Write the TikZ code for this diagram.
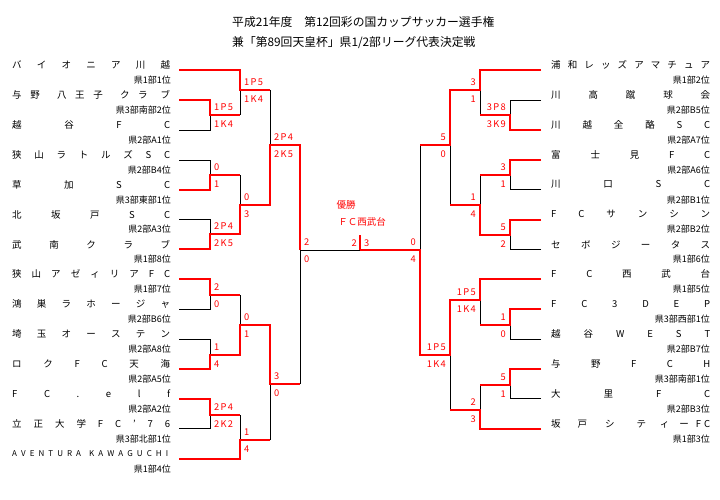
\documentclass[tikz,border=0pt]{standalone}
\usepackage{fontspec}
\setmainfont{Noto Sans CJK JP}
\newcommand\pkl[3]{#1\kern1.3pt #2\kern1.3pt #3}
\newcommand\wgap[1]{\hskip 0pt plus #1fil\relax}
\tikzset{
  nm/.style={inner sep=0pt, anchor=west, font=\fontsize{9.5}{11}\selectfont},
  subtl/.style={inner sep=0pt, anchor=east, font=\fontsize{9}{11}\selectfont},
  scl/.style={inner sep=0pt, text=red, font=\fontsize{9.3}{11}\selectfont},
  scL/.style={scl, anchor=west},
  scR/.style={scl, anchor=east},
  wline/.style={draw=red, line width=2pt, line join=miter},
  lline/.style={draw=black, line width=0.9pt},
  ttl/.style={inner sep=0pt, anchor=west, font=\fontsize{11.8}{13}\selectfont},
  champ/.style={inner sep=0pt, text=red, font=\fontsize{9.5}{11}\selectfont},
}
\begin{document}
\begin{tikzpicture}[x=1pt,y=-1pt]
\useasboundingbox (0,0) rectangle (720,500);
\fill[white] (0,0) rectangle (720,500);

% title
\node[ttl] (t1) at (232,22) {平成21年度　第12回彩の国カップサッカー選手権};
\node[ttl] (t2) at (232,43) {兼「第89回天皇杯」県1/2部リーグ代表決定戦};

% team line ends
\coordinate (l1) at (179,70);
\coordinate (l2) at (179,100);
\coordinate (l3) at (179,130);
\coordinate (l4) at (179,160);
\coordinate (l5) at (179,189.6);
\coordinate (l6) at (179,219.5);
\coordinate (l7) at (179,249.4);
\coordinate (l8) at (179,279.3);
\coordinate (l9) at (179,309.2);
\coordinate (l10) at (179,339.1);
\coordinate (l11) at (179,369);
\coordinate (l12) at (179,398.9);
\coordinate (l13) at (179,428.8);
\coordinate (l14) at (179,458.7);
\coordinate (r1) at (541,70);
\coordinate (r2) at (541,100);
\coordinate (r3) at (541,130);
\coordinate (r4) at (541,160);
\coordinate (r5) at (541,189.6);
\coordinate (r6) at (541,219.5);
\coordinate (r7) at (541,249.4);
\coordinate (r8) at (541,279.3);
\coordinate (r9) at (541,309.2);
\coordinate (r10) at (541,339.1);
\coordinate (r11) at (541,369);
\coordinate (r12) at (541,398.9);
\coordinate (r13) at (541,428.8);

% junctions left
\coordinate (jA) at (210,115);
\coordinate (jB) at (240,90);
\coordinate (jD) at (210,175);
\coordinate (jF) at (210,234);
\coordinate (jE) at (240,205);
\coordinate (jC) at (270,145);
\coordinate (jG) at (210,295);
\coordinate (jH) at (210,355);
\coordinate (jI) at (240,325);
\coordinate (jJ) at (210,415);
\coordinate (jK) at (240,440);
\coordinate (jL) at (270,384);
\coordinate (jS) at (300,250);
\coordinate (jF0) at (360,250);
\coordinate (tick) at (360,235);
% junctions right
\coordinate (kA) at (510,115);
\coordinate (kB) at (480,90);
\coordinate (kC) at (510,175);
\coordinate (kD) at (510,235);
\coordinate (kE) at (480,205);
\coordinate (kF) at (450,145);
\coordinate (kG) at (510,325);
\coordinate (kH) at (480,300);
\coordinate (kI) at (510,385);
\coordinate (kJ) at (480,410);
\coordinate (kK) at (450,355);
\coordinate (kS) at (420,250);

% losing lines (black)
\draw[lline] (l3) -| (jA);
\draw[lline] (jA -| jB) -- (jB);
\draw[lline] (jB -| jC) -- (jC);
\draw[lline] (l4) -| (jD);
\draw[lline] (jD -| jE) -- (jE);
\draw[lline] (l6) -| (jF);
\draw[lline] (jS) -- (jF0);
\draw[lline] (jG -| jI) -- (jI);
\draw[lline] (l9) -| (jG);
\draw[lline] (l10) -| (jH);
\draw[lline] (jL -| jS) -- (jS);
\draw[lline] (jJ -| jK) -- (jK);
\draw[lline] (l13) -| (jJ);
\draw[lline] (jK -| jL) -- (jL);
\draw[lline] (r2) -| (kA);
\draw[lline] (kA -| kB) -- (kB);
\draw[lline] (kF -| kS) -- (kS);
\draw[lline] (kC -| kE) -- (kE);
\draw[lline] (r5) -| (kC);
\draw[lline] (kE -| kF) -- (kF);
\draw[lline] (r7) -| (kD);
\draw[lline] (kG -| kH) -- (kH);
\draw[lline] (r10) -| (kG);
\draw[lline] (kI -| kJ) -- (kJ);
\draw[lline] (r12) -| (kI);
\draw[lline] (kJ -| kK) -- (kK);

% winning lines (red)
\draw[wline] (l1) -| (jB) -- (jB -| jC);
\draw[wline] (l2) -| (jA) -- (jA -| jB);
\draw[wline] (l5) -| (jD) -- (jD -| jE);
\draw[wline] (l7) -| (jF) -- (jF -| jE) -- (jE) -- (jE -| jC) -- (jC) -- (jC -| jS) -- (jS);
\draw[wline] (l8) -| (jG) -- (jG -| jI);
\draw[wline] (l11) -| (jH) -- (jH -| jI) -- (jI) -- (jI -| jL) -- (jL) -- (jL -| jS);
\draw[wline] (l12) -| (jJ) -- (jJ -| jK);
\draw[wline] (l14) -| (jK) -- (jK -| jL);
\draw[wline] (r1) -| (kB) -- (kB -| kF) -- (kF) -- (kF -| kS);
\draw[wline] (r3) -| (kA) -- (kA -| kB);
\draw[wline] (r4) -| (kC) -- (kC -| kE);
\draw[wline] (r6) -| (kD) -- (kD -| kE) -- (kE) -- (kE -| kF);
\draw[wline] (r8) -| (kH) -- (kH -| kK) -- (kK) -- (kK -| kS) -- (kS) -- (jF0);
\draw[wline] (r9) -| (kG) -- (kG -| kH);
\draw[wline] (r11) -| (kI) -- (kI -| kJ);
\draw[wline] (r13) -| (kJ) -- (kJ -| kK);
\draw[wline] (jF0) -- (tick);

% left team names
\node[nm] (n1) at (12,65) {\hbox to 158pt{バ\hfill イ\hfill オ\hfill ニ\hfill ア\hfill 川\hfill 越}};
\node[nm] (n2) at (12,95) {\hbox to 158pt{与\wgap{1}野\wgap{2}八\wgap{1}王\wgap{1}子\wgap{2}ク\wgap{1}ラ\wgap{1.5}ブ}};
\node[nm] (n3) at (12,125) {\hbox to 158pt{越\hfill 谷\hfill F\hfill C}};
\node[nm] (n4) at (12,155) {\hbox to 158pt{狭\hfill 山\hfill ラ\hfill ト\hfill ル\hfill ズ\hfill S\hfill C}};
\node[nm] (n5) at (12,184.6) {\hbox to 158pt{草\hfill 加\hfill S\hfill C}};
\node[nm] (n6) at (12,214.5) {\hbox to 158pt{北\hfill 坂\hfill 戸\hfill S\hfill C}};
\node[nm] (n7) at (12,244.4) {\hbox to 158pt{武\hfill 南\hfill ク\hfill ラ\hfill ブ}};
\node[nm] (n8) at (12,274.3) {\hbox to 158pt{狭\hfill 山\hfill ア\hfill ゼ\hfill ィ\hfill リ\hfill ア\hfill F\hfill C}};
\node[nm] (n9) at (12,304.2) {\hbox to 158pt{鴻\hfill 巣\hfill ラ\hfill ホ\hfill ー\hfill ジ\hfill ャ}};
\node[nm] (n10) at (12,334.1) {\hbox to 158pt{埼\hfill 玉\hfill オ\hfill ー\hfill ス\hfill テ\hfill ン}};
\node[nm] (n11) at (12,364) {\hbox to 158pt{ロ\hfill ク\hfill F\hfill C\hfill 天\hfill 海}};
\node[nm] (n12) at (12,393.9) {\hbox to 158pt{F\hfill C\hfill .\hfill e\hfill l\hfill f}};
\node[nm] (n13) at (12,423.8) {\hbox to 158pt{立\hfill 正\hfill 大\hfill 学\hfill F\hfill C\hfill ’\hfill 7\hfill 6}};
\node[nm] (n14) at (12,453.7) {\hbox to 156pt{\fontsize{8}{10}\selectfont A\hfill V\hfill E\hfill N\hfill T\hfill U\hfill R\hfill A\hfill\hfill K\hfill A\hfill W\hfill A\hfill G\hfill U\hfill C\hfill H\hfill I}};

% left subtitles
\node[subtl] (s1) at (171,80) {県1部1位};
\node[subtl] (s2) at (171,110) {県3部南部2位};
\node[subtl] (s3) at (171,140) {県2部A1位};
\node[subtl] (s4) at (171,170) {県2部B4位};
\node[subtl] (s5) at (171,199.6) {県3部東部1位};
\node[subtl] (s6) at (171,229.5) {県2部A3位};
\node[subtl] (s7) at (171,259.4) {県1部8位};
\node[subtl] (s8) at (171,289.3) {県1部7位};
\node[subtl] (s9) at (171,319.2) {県2部B6位};
\node[subtl] (s10) at (171,349.1) {県2部A8位};
\node[subtl] (s11) at (171,379) {県2部A5位};
\node[subtl] (s12) at (171,408.9) {県2部A2位};
\node[subtl] (s13) at (171,438.8) {県3部北部1位};
\node[subtl] (s14) at (171,468.7) {県1部4位};

% right team names
\node[nm] (m1) at (551,65) {\hbox to 159pt{浦\hfill 和\hfill レ\hfill ッ\hfill ズ\hfill ア\hfill マ\hfill チ\hfill ュ\hfill ア}};
\node[nm] (m2) at (551,95) {\hbox to 159pt{川\hfill 高\hfill 蹴\hfill 球\hfill 会}};
\node[nm] (m3) at (551,125) {\hbox to 159pt{川\hfill 越\hfill 全\hfill 酪\hfill S\hfill C}};
\node[nm] (m4) at (551,155) {\hbox to 159pt{富\hfill 士\hfill 見\hfill F\hfill C}};
\node[nm] (m5) at (551,184.6) {\hbox to 159pt{川\hfill 口\hfill S\hfill C}};
\node[nm] (m6) at (551,214.5) {\hbox to 159pt{F\hfill C\hfill サ\hfill ン\hfill シ\hfill ン}};
\node[nm] (m7) at (551,244.4) {\hbox to 159pt{セ\hfill ボ\hfill ジ\hfill ー\hfill タ\hfill ス}};
\node[nm] (m8) at (551,274.3) {\hbox to 159pt{F\hfill C\hfill 西\hfill 武\hfill 台}};
\node[nm] (m9) at (551,304.2) {\hbox to 159pt{F\hfill C\hfill 3\hfill D\hfill E\hfill P}};
\node[nm] (m10) at (551,334.1) {\hbox to 159pt{越\hfill 谷\hfill W\hfill E\hfill S\hfill T}};
\node[nm] (m11) at (551,364) {\hbox to 159pt{与\hfill 野\hfill F\hfill C\hfill H}};
\node[nm] (m12) at (551,393.9) {\hbox to 159pt{大\hfill 里\hfill F\hfill C}};
\node[nm] (m13) at (551,423.8) {\hbox to 159pt{坂\wgap{17}戸\wgap{18}シ\wgap{22}テ\wgap{14}ィ\wgap{10}ー\wgap{7}F\wgap{3}C}};

% right subtitles
\node[subtl] (u1) at (710,80) {県1部2位};
\node[subtl] (u2) at (710,110) {県2部B5位};
\node[subtl] (u3) at (710,140) {県2部A7位};
\node[subtl] (u4) at (710,170) {県2部A6位};
\node[subtl] (u5) at (710,199.6) {県2部B1位};
\node[subtl] (u6) at (710,229.5) {県2部B2位};
\node[subtl] (u7) at (710,259.4) {県1部6位};
\node[subtl] (u8) at (710,289.3) {県1部5位};
\node[subtl] (u9) at (710,319.2) {県3部西部1位};
\node[subtl] (u10) at (710,349.1) {県2部B7位};
\node[subtl] (u11) at (710,379) {県3部南部1位};
\node[subtl] (u12) at (710,408.9) {県2部B3位};
\node[subtl] (u13) at (710,438.8) {県1部3位};

% left scores
\node[scL] (pA1) at (214,107) {\pkl{1}{P}{5}};
\node[scL] (pA2) at (214,124) {\pkl{1}{K}{4}};
\node[scL] (pB1) at (244,82) {\pkl{1}{P}{5}};
\node[scL] (pB2) at (244,99) {\pkl{1}{K}{4}};
\node[scL] (pD1) at (214,167) {0};
\node[scL] (pD2) at (214,184) {1};
\node[scL] (pC1) at (274,137) {\pkl{2}{P}{4}};
\node[scL] (pC2) at (274,154) {\pkl{2}{K}{5}};
\node[scL] (pE1) at (244,197) {0};
\node[scL] (pE2) at (244,214) {3};
\node[scL] (pF1) at (214,226) {\pkl{2}{P}{4}};
\node[scL] (pF2) at (214,243) {\pkl{2}{K}{5}};
\node[scL] (pG1) at (214,287) {2};
\node[scL] (pG2) at (214,304) {0};
\node[scL] (pI1) at (244,317) {0};
\node[scL] (pI2) at (244,334) {1};
\node[scL] (pH1) at (214,347) {1};
\node[scL] (pH2) at (214,364) {4};
\node[scL] (pL1) at (274,376) {3};
\node[scL] (pL2) at (274,393) {0};
\node[scL] (pJ1) at (214,407) {\pkl{2}{P}{4}};
\node[scL] (pJ2) at (214,424) {\pkl{2}{K}{2}};
\node[scL] (pK1) at (244,432) {1};
\node[scL] (pK2) at (244,449) {4};
\node[scL] (pS1) at (304,242) {2};
\node[scL] (pS2) at (304,259) {0};
% final
\node[scR] (fa) at (357,243) {2};
\node[scL] (fb) at (364,243) {3};
\node[champ] (ch1) at (346,205) {優勝};
\node[champ] (ch2) at (362,222) {ＦＣ西武台};

% right scores
\node[scR] (qB1) at (476,82) {3};
\node[scR] (qB2) at (476,99) {1};
\node[scR] (qA1) at (506,107) {\pkl{3}{P}{8}};
\node[scR] (qA2) at (506,124) {\pkl{3}{K}{9}};
\node[scR] (qF1) at (446,137) {5};
\node[scR] (qF2) at (446,154) {0};
\node[scR] (qC1) at (506,167) {3};
\node[scR] (qC2) at (506,184) {1};
\node[scR] (qE1) at (476,197) {1};
\node[scR] (qE2) at (476,214) {4};
\node[scR] (qD1) at (506,227) {5};
\node[scR] (qD2) at (506,244) {2};
\node[scR] (qS1) at (416,242) {0};
\node[scR] (qS2) at (416,259) {4};
\node[scR] (qH1) at (476,292) {\pkl{1}{P}{5}};
\node[scR] (qH2) at (476,309) {\pkl{1}{K}{4}};
\node[scR] (qG1) at (506,317) {1};
\node[scR] (qG2) at (506,334) {0};
\node[scR] (qK1) at (446,347) {\pkl{1}{P}{5}};
\node[scR] (qK2) at (446,364) {\pkl{1}{K}{4}};
\node[scR] (qI1) at (506,377) {5};
\node[scR] (qI2) at (506,394) {1};
\node[scR] (qJ1) at (476,402) {2};
\node[scR] (qJ2) at (476,419) {3};
\end{tikzpicture}
\end{document}
